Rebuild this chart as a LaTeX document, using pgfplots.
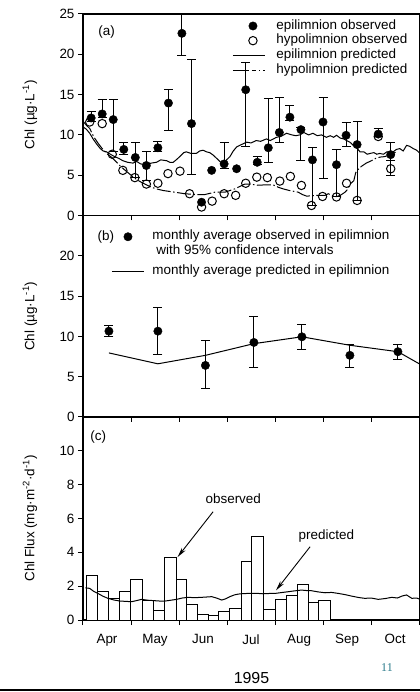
\documentclass[border=0pt]{standalone}
\usepackage{fontspec}
\setmainfont{Liberation Sans}
\newfontfamily\pnfont{Liberation Serif}
\usepackage{pgfplots}
\pgfplotsset{compat=1.18}
\usepackage{pgfplotstable}
\usetikzlibrary{arrows.meta}
\definecolor{pagenum}{HTML}{2A7A8A}

\newcommand{\fs}{\fontsize{13.5}{16}\selectfont}

\pgfplotstableread{
x y ep em
0.17 12.1 0.75 0.4
0.40 12.6 1.8 0.5
0.63 11.9 2.5 4.0
0.85 8.2 0.9 0.6
1.09 7.2 1.9 2.5
1.32 6.2 1.7 1.85
1.56 8.4 0.8 0.4
1.78 13.95 1.65 3.35
2.06 22.6 2.6 2.7
2.26 11.4 8.0 6.3
2.94 6.4 2.6 0.6
3.39 15.6 3.4 7.0
3.63 6.6 0.7 0.3
3.86 8.4 6.1 1.8
4.09 10.3 4.4 1.3
4.31 12.2 1.5 0.4
4.54 10.65 0.3 3.85
4.78 6.9 1.5 5.7
5.00 11.6 3.0 7.05
5.28 6.3 1.9 4.0
5.48 9.95 1.55 1.35
5.71 8.8 2.8 6.9
6.15 10.1 0.7 0.3
6.41 7.55 1.55 0.75
}\epiobs

\pgfplotstableread{
x y
2.47 1.65
2.68 5.6
3.20 5.8
}\epinoerr

\pgfplotstableread{
x y
0.14 11.6
0.40 11.4
0.61 7.6
0.83 5.6
1.08 4.7
1.32 3.9
1.56 4.0
1.77 5.2
2.02 5.5
2.22 2.7
2.47 1.05
2.69 1.78
2.94 2.7
3.18 2.5
3.39 4.0
3.62 4.76
3.84 4.7
4.10 4.27
4.32 4.85
4.55 3.73
4.76 1.24
4.99 2.36
5.28 2.3
5.49 4.0
5.71 1.87
6.15 9.8
}\hypobs

\pgfplotstableread{
x y ep em
6.41 5.8 1.0 0.8
}\hypobserr

\pgfplotstableread{
x y ep em
0.54 10.65 0.75 0.65
1.56 10.65 2.95 2.95
2.55 6.4 3.05 2.9
3.56 9.25 3.25 3.15
4.56 9.95 1.55 1.55
5.56 7.65 1.35 1.45
6.56 8.1 0.9 1.0
}\monthobs

\pgfplotstableread{
x y
0.07 2.62
0.30 1.67
0.54 1.25
0.77 1.67
0.99 2.42
1.23 1.14
1.46 0.59
1.69 3.68
1.95 2.42
2.16 0.89
2.39 0.30
2.61 0.24
2.83 0.49
3.06 0.69
3.30 3.48
3.51 4.96
3.77 0.62
4.01 1.20
4.23 1.44
4.46 2.07
4.69 1.04
4.91 1.16
5.16 0
}\fluxobs

\pgfplotsset{
  panel/.style={
    scale only axis, width=337bp, xmin=0, xmax=7.02,
    xtick={0,...,7}, tick pos=left, tick align=outside,
    major tick length=5bp,
    axis line style={line width=1.1bp},
    every tick/.style={black, line width=1bp},
    tick label style={font=\fs},
    /pgf/number format/assume math mode=true,
    ylabel style={font=\fs, at={([xshift=-53bp]rel axis cs:0,0.5)}, anchor=center},
    xticklabels={},
  },
  ebars/.style={error bars/.cd, y dir=both, y explicit,
    error bar style={line width=1bp, black},
    error mark options={rotate=90, mark size=4.5bp, line width=1bp, black}},
  legmark/.style={legend image code/.code={\path[draw=none] (0bp,0bp) -- (32bp,0bp); \draw[##1] plot coordinates {(#1,0bp)};}},
  legline/.style={legend image code/.code={\draw[##1] (0bp,0bp) -- (32bp,0bp);}},
}

\begin{document}
\begin{tikzpicture}
\path[use as bounding box] (-83bp,-72bp) rectangle (337bp,620bp);

% ---------------- panel (a)
\begin{axis}[panel, at={(0,404.5bp)}, anchor=south west, height=201.5bp,
  ymin=0, ymax=25, ytick={0,5,...,25},
  ylabel={Chl (µg·L\textsuperscript{-1})},
  legend cell align=left,
  legend style={draw=none, fill=none, at={(rel axis cs:0.4435,0.977)}, anchor=north west,
    inner sep=0pt, outer sep=0pt, row sep=0pt, font=\fs,
    nodes={inner sep=0.5bp, text height=10bp, text depth=3.7bp},
    /tikz/every odd column/.append style={column sep=10.5bp}},
]
\addplot[forget plot, black, line width=1bp] coordinates {
(0,11.0)(0.07,10.7)(0.14,10.2)(0.21,9.5)(0.28,8.9)(0.36,8.3)(0.42,8.0)(0.49,7.9)(0.57,7.6)(0.66,7.3)(0.74,7.1)(0.83,6.8)(0.93,6.6)(1.04,6.5)(1.12,6.7)(1.2,6.4)(1.32,6.3)(1.42,6.5)(1.53,6.6)(1.62,6.9)(1.74,6.8)(1.81,6.6)(1.88,6.6)(1.96,7.0)(2.05,7.5)(2.1,7.8)(2.15,7.9)(2.25,7.7)(2.36,7.7)(2.43,8.0)(2.50,8.1)(2.57,7.9)(2.64,7.8)(2.71,7.5)(2.8,7.0)(2.87,6.6)(2.92,6.4)(2.99,6.9)(3.06,7.3)(3.13,8.0)(3.20,8.5)(3.3,8.8)(3.41,9.1)(3.5,9.0)(3.61,9.3)(3.7,9.2)(3.82,9.5)(3.9,9.3)(4.03,9.7)(4.12,9.8)(4.24,10.2)(4.35,10.0)(4.43,9.9)(4.52,10.0)(4.6,10.3)(4.7,10.0)(4.79,10.2)(4.88,9.9)(4.97,10.0)(5.07,9.7)(5.15,9.9)(5.22,9.7)(5.28,9.95)(5.36,9.6)(5.43,9.5)(5.49,9.3)(5.56,9.1)(5.63,8.7)(5.7,8.4)(5.77,7.9)(5.85,7.9)(5.92,7.6)(5.98,7.7)(6.06,7.8)(6.12,7.6)(6.18,7.7)(6.26,7.6)(6.33,7.9)(6.39,7.9)(6.46,7.9)(6.53,8.2)(6.6,8.3)(6.67,8.0)(6.74,8.7)(6.8,8.6)(6.88,8.3)(6.95,8.1)(7.02,7.7)};
\addplot[forget plot, black, line width=1bp, dash pattern=on 14bp off 2.5bp on 1.5bp off 2.5bp] coordinates {
(0,11.7)(0.07,11.2)(0.14,10.8)(0.22,9.8)(0.31,9.0)(0.4,8.3)(0.49,7.7)(0.6,7.2)(0.7,6.6)(0.8,6.0)(0.9,5.5)(1.0,5.0)(1.11,4.5)(1.22,4.1)(1.32,3.8)(1.43,3.5)(1.53,3.3)(1.67,3.1)(1.9,2.9)(2.12,2.7)(2.33,2.6)(2.54,2.6)(2.75,2.9)(2.96,2.9)(3.16,3.3)(3.37,3.9)(3.5,3.9)(3.62,3.75)(3.8,3.8)(3.96,3.8)(4.07,3.5)(4.17,3.3)(4.3,3.1)(4.48,2.9)(4.57,2.6)(4.66,2.4)(4.87,2.5)(5.04,2.5)(5.11,2.7)(5.25,2.3)(5.36,2.5)(5.46,2.9)(5.52,3.3)(5.56,3.9)(5.64,4.3)(5.68,5.3)(5.71,5.6)(5.8,6.1)(5.9,6.5)(6.01,6.8)(6.1,7.1)(6.19,7.25)(6.28,7.3)(6.36,7.46)(6.46,7.7)(6.53,7.9)};
\addplot[forget plot, only marks, mark=o, mark size=4.2bp, mark options={fill=white, line width=1bp}, black] table[x=x, y=y] {\hypobs};
\addplot[forget plot, only marks, mark=o, mark size=4.2bp, mark options={fill=white, line width=1bp}, black, ebars] table[x=x, y=y, y error plus=ep, y error minus=em] {\hypobserr};
\addplot[forget plot, only marks, mark=*, mark size=4.2bp, black, ebars] table[x=x, y=y, y error plus=ep, y error minus=em] {\epiobs};
\addplot[forget plot, only marks, mark=*, mark size=4.2bp, black] table[x=x, y=y] {\epinoerr};
\addlegendimage{only marks, mark=*, mark size=4.2bp, black, legmark=20bp}
\addlegendentry{epilimnion observed}
\addlegendimage{only marks, mark=o, mark size=4.2bp, black, mark options={fill=white, line width=1bp}, legmark=20bp}
\addlegendentry{hypolimnion observed}
\addlegendimage{black, line width=1bp, legline}
\addlegendentry{epilimnion predicted}
\addlegendimage{black, line width=1bp, dash pattern=on 16bp off 3bp on 4bp off 3bp on 1.5bp off 3bp, legline}
\addlegendentry{hypolimnion predicted}
\node[font=\fs] at (rel axis cs:0.07,0.912) {(a)};
\end{axis}

% ---------------- panel (b)
\begin{axis}[panel, at={(0,203bp)}, anchor=south west, height=201.5bp,
  ymin=0, ymax=25, ytick={0,5,...,20},
  ylabel={Chl (µg·L\textsuperscript{-1})},
  legend cell align=left,
  legend style={draw=none, fill=none, at={(rel axis cs:0.0845,0.931)}, anchor=north west,
    inner sep=0pt, outer sep=0pt, row sep=0pt, font=\fs,
    nodes={inner sep=0.5bp, text height=10bp, text depth=3.7bp},
    /tikz/every odd column/.append style={column sep=7.5bp}},
]
\addplot[forget plot, black, line width=1bp] coordinates {
(0.54,7.95)(1.56,6.6)(2.55,7.65)(3.56,9.1)(4.56,9.95)(5.56,8.9)(6.56,8.1)(7.02,6.55)};
\addplot[forget plot, only marks, mark=*, mark size=4.2bp, black, ebars] table[x=x, y=y, y error plus=ep, y error minus=em] {\monthobs};
\addlegendimage{only marks, mark=*, mark size=4.2bp, black, legmark=16bp}
\addlegendentry{monthly average observed in epilimnion}
\addlegendimage{empty legend}
\addlegendentry[text depth=8.7bp]{\hspace*{4bp}with 95\% confidence intervals}
\addlegendimage{black, line width=1bp, legline}
\addlegendentry{monthly average predicted in epilimnion}
\node[font=\fs] at (rel axis cs:0.068,0.894) {(b)};
\end{axis}

% ---------------- panel (c)
\begin{axis}[panel, at={(0,0)}, anchor=south west, height=203bp,
  ymin=0, ymax=12, ytick={0,2,...,10},
  ylabel={Chl Flux (mg·m\textsuperscript{-2}·d\textsuperscript{-1})},
  x tick label as interval, xticklabels={Apr,May,Jun,Jul,Aug,Sep,Oct},
  xticklabel style={yshift=-6bp},
  xlabel={1995},
  xlabel style={font=\fontsize{16}{18}\selectfont, at={([yshift=-58bp]rel axis cs:0.5,0)}, anchor=center},
]
\addplot[ybar interval, fill=white, draw=black, line width=1bp] table[x=x, y=y] {\fluxobs};
\addplot[black, line width=1bp] coordinates {
(0.05,1.9)(0.14,1.87)(0.22,1.7)(0.31,1.57)(0.42,1.4)(0.52,1.28)(0.65,1.18)(0.77,1.12)(0.9,1.1)(1.01,1.08)(1.12,1.15)(1.22,1.22)(1.35,1.17)(1.5,1.14)(1.6,1.12)(1.71,1.12)(1.83,1.17)(1.95,1.22)(2.07,1.3)(2.19,1.34)(2.33,1.32)(2.47,1.34)(2.58,1.36)(2.68,1.38)(2.78,1.3)(2.89,1.18)(2.97,1.25)(3.06,1.38)(3.15,1.48)(3.23,1.53)(3.33,1.56)(3.44,1.57)(3.6,1.58)(3.75,1.55)(3.9,1.57)(4.0,1.57)(4.13,1.62)(4.27,1.67)(4.4,1.72)(4.55,1.77)(4.66,1.74)(4.76,1.73)(4.9,1.66)(5.04,1.61)(5.18,1.63)(5.32,1.57)(5.46,1.5)(5.6,1.41)(5.74,1.33)(5.87,1.28)(6.0,1.3)(6.15,1.22)(6.3,1.27)(6.43,1.34)(6.55,1.3)(6.65,1.42)(6.74,1.48)(6.85,1.28)(6.95,1.3)(7.02,1.22)};
\node[font=\fs] at (rel axis cs:0.045,0.9) {(c)};
\node[font=\fs] at (axis cs:3.13,7.15) {observed};
\draw[-{Stealth[length=10bp,width=4.5bp]}, line width=0.9bp] (axis cs:2.71,6.4) -- (axis cs:1.97,3.72);
\node[font=\fs] at (axis cs:5.07,4.96) {predicted};
\draw[-{Stealth[length=10bp,width=4.5bp]}, line width=0.9bp] (axis cs:4.73,4.33) -- (axis cs:4.02,1.75);
\end{axis}

\draw[line width=2.5bp] (-83bp,-70bp) -- (337bp,-70bp);
\node[font=\pnfont\fontsize{12}{14}\selectfont, text=pagenum] at (304bp,-48bp) {11};
\end{tikzpicture}
\end{document}
